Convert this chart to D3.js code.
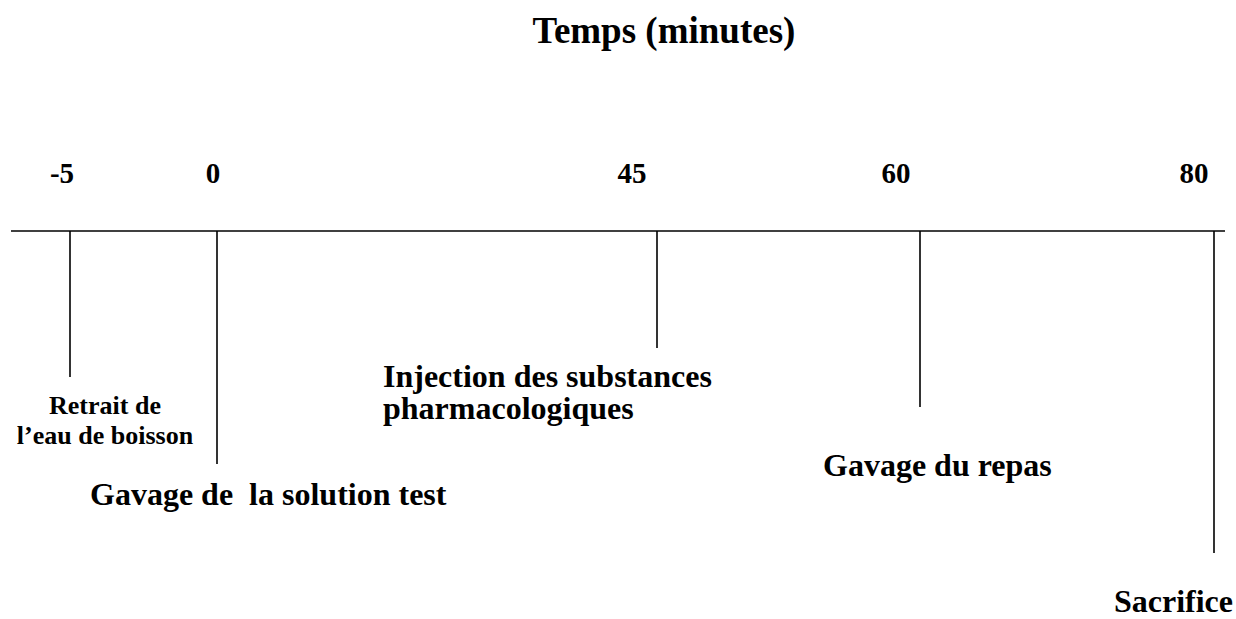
<!DOCTYPE html>
<html>
<head>
<meta charset="utf-8">
<script src="https://cdn.jsdelivr.net/npm/d3@7"></script>
<style>
  body { margin: 0; background: #fff; }
  text { font-family: "Liberation Serif", "Times New Roman", serif; font-weight: bold; fill: #000; }
</style>
</head>
<body>
<svg width="1236" height="619"></svg>
<script>
// timeline data
var times = [-5, 0, 45, 60, 80];
var tickLabels = ["-5", "0", "45", "60", "80"];
var eventLabels = [
  ["Retrait de", "l\u2019eau de boisson"],
  ["Gavage de \u00a0la solution test"],
  ["Injection des substances", "pharmacologiques"],
  ["Gavage du repas"],
  ["Sacrifice"]
];
var title = "Temps (minutes)";

// layout (schematic: spacing is not proportional to time)
var stemEnd = [377, 464, 348, 407, 553];
var tickDx = [-8, -4, -25, -24, -20];
var labelPos = [
  { dx: 35, y: 414, anchor: "middle", size: 26, lh: 30 },
  { dx: -127, y: 505, anchor: "start", size: 32, lh: 32 },
  { dx: -274, y: 387, anchor: "start", size: 32, lh: 32 },
  { dx: -97, y: 476, anchor: "start", size: 32, lh: 32 },
  { dx: 19, y: 612, anchor: "end", size: 32, lh: 32 }
];

var svg = d3.select("svg"),
    width = +svg.attr("width"),
    axisY = 231;

var x = d3.scaleLinear()
  .domain(times)
  .range([70, 217, 657, 920, 1214]);

svg.append("text")
  .attr("x", 664)
  .attr("y", 43)
  .attr("text-anchor", "middle")
  .style("font-size", "37px")
  .text(title);

// main axis line
svg.append("line")
  .attr("x1", 11).attr("x2", 1225)
  .attr("y1", axisY).attr("y2", axisY)
  .attr("stroke", "#000")
  .attr("stroke-width", 1.6);

var ev = svg.selectAll(".event")
  .data(times)
  .enter().append("g")
    .attr("class", "event");

ev.append("line")
  .attr("x1", function(d) { return x(d); })
  .attr("x2", function(d) { return x(d); })
  .attr("y1", axisY)
  .attr("y2", function(d, i) { return stemEnd[i]; })
  .attr("stroke", "#000")
  .attr("stroke-width", 1.6);

ev.append("text")
  .attr("x", function(d, i) { return x(d) + tickDx[i]; })
  .attr("y", 183)
  .attr("text-anchor", "middle")
  .style("font-size", "29px")
  .text(function(d, i) { return tickLabels[i]; });

ev.append("text")
  .attr("text-anchor", function(d, i) { return labelPos[i].anchor; })
  .style("font-size", function(d, i) { return labelPos[i].size + "px"; })
  .each(function(d, i) {
    var p = labelPos[i];
    d3.select(this).selectAll("tspan")
      .data(eventLabels[i])
      .enter().append("tspan")
        .attr("x", x(d) + p.dx)
        .attr("y", function(s, j) { return p.y + j * p.lh; })
        .text(function(s) { return s; });
  });
</script>
</body>
</html>
